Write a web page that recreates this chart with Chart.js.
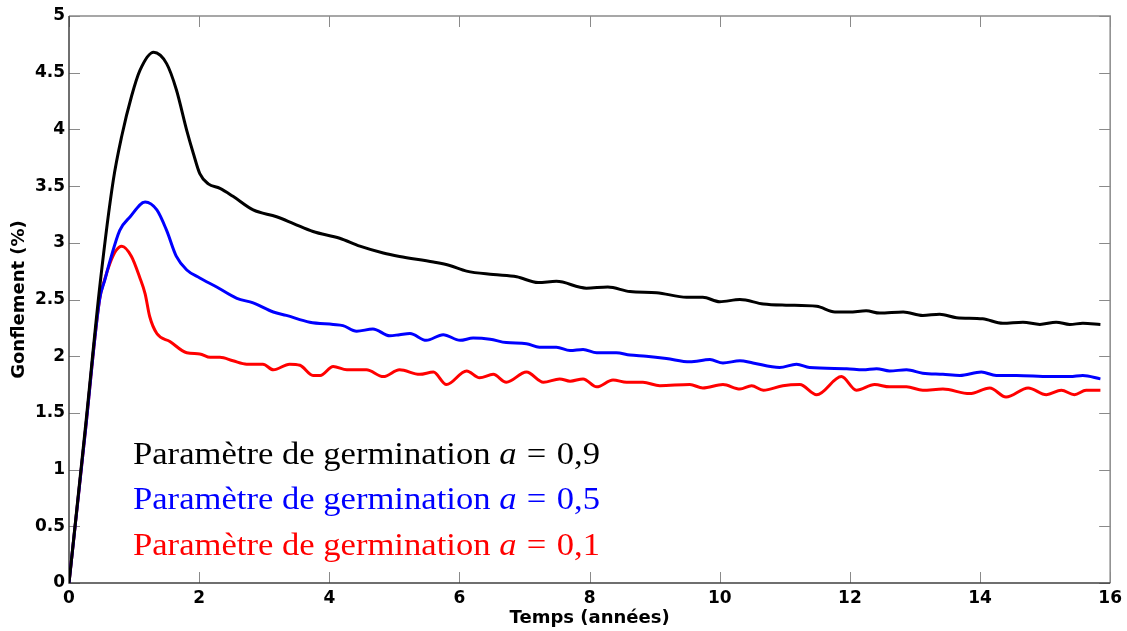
<!DOCTYPE html>
<html><head><meta charset="utf-8">
<script src="https://cdn.jsdelivr.net/npm/chart.js@4/dist/chart.umd.min.js"></script>
<style>html,body{margin:0;padding:0;background:#fff}#wrap{width:1127px;height:631px}</style>
</head><body><div id="wrap"><canvas id="c" width="1127" height="631"></canvas></div>
<script>
// ---- data ----
const xTicks = [0, 2, 4, 6, 8, 10, 12, 14, 16];
const yTicks = [0, 0.5, 1, 1.5, 2, 2.5, 3, 3.5, 4, 4.5, 5];
const xTitle = 'Temps (années)';
const yTitle = 'Gonflement (%)';
const labelPrefix = 'Paramètre de germination ';
const labelVar = 'a';
const labelValues = ['0,9', '0,5', '0,1'];
const seriesColors = ['#000000', '#0000ff', '#ff0000'];

const tBlack = [0,0.25,0.48,0.68,0.81,0.96,1.09,1.30,1.50,1.65,1.81,1.91,2.01,2.14,2.32,2.52,2.83,3.19,3.45,3.75,4.16,4.47,4.83,5.08,5.60,5.85,6.11,6.52,6.88,7.21,7.49,7.95,8.28,8.62,9.03,9.49,9.74,10.0,10.31,10.67,11.02,11.49,11.77,11.99,12.25,12.46,12.82,13.12,13.38,13.64,14.04,14.35,14.66,14.92,15.17,15.38,15.58,15.85];
const vBlack = [0,1.36,2.65,3.55,3.94,4.29,4.52,4.68,4.58,4.35,3.99,3.79,3.61,3.52,3.48,3.41,3.29,3.23,3.17,3.10,3.04,2.97,2.91,2.88,2.83,2.80,2.75,2.72,2.70,2.65,2.66,2.60,2.61,2.57,2.56,2.52,2.52,2.48,2.50,2.46,2.45,2.44,2.39,2.39,2.40,2.38,2.39,2.36,2.37,2.34,2.33,2.29,2.30,2.28,2.30,2.28,2.29,2.28];

const tBlue = [0,0.25,0.47,0.55,0.63,0.78,0.94,1.17,1.35,1.50,1.65,1.81,2.01,2.27,2.58,2.83,3.14,3.34,3.70,4.06,4.21,4.42,4.67,4.93,5.08,5.24,5.49,5.75,6.01,6.21,6.47,6.72,7.03,7.23,7.49,7.70,7.90,8.11,8.41,8.62,8.87,9.18,9.54,9.85,10.05,10.31,10.51,10.92,11.18,11.38,11.95,12.20,12.41,12.61,12.87,13.12,13.43,13.69,14.02,14.25,14.56,15.07,15.38,15.58,15.85];
const vBlue = [0,1.33,2.5,2.67,2.84,3.11,3.23,3.36,3.29,3.11,2.88,2.76,2.69,2.61,2.51,2.47,2.39,2.36,2.30,2.28,2.27,2.22,2.24,2.18,2.19,2.20,2.14,2.19,2.14,2.16,2.15,2.12,2.11,2.08,2.08,2.05,2.06,2.03,2.03,2.01,2.00,1.98,1.95,1.97,1.94,1.96,1.94,1.90,1.93,1.90,1.89,1.88,1.89,1.87,1.88,1.85,1.84,1.83,1.86,1.83,1.83,1.82,1.82,1.83,1.80];

const tRed = [0,0.25,0.47,0.55,0.63,0.72,0.81,0.96,1.09,1.17,1.24,1.35,1.55,1.81,2.01,2.17,2.32,2.52,2.73,2.98,3.14,3.39,3.55,3.75,3.86,4.06,4.27,4.57,4.83,5.08,5.39,5.60,5.80,6.11,6.31,6.52,6.72,7.03,7.29,7.54,7.70,7.90,8.11,8.36,8.57,8.82,9.08,9.54,9.74,10.05,10.31,10.49,10.67,10.97,11.23,11.49,11.87,12.10,12.38,12.61,12.87,13.12,13.43,13.84,14.15,14.40,14.74,15.02,15.25,15.45,15.63,15.85];
const vRed = [0,1.33,2.5,2.68,2.82,2.93,2.97,2.88,2.69,2.55,2.35,2.20,2.13,2.03,2.02,1.99,1.99,1.96,1.93,1.93,1.88,1.93,1.92,1.83,1.83,1.91,1.88,1.88,1.82,1.88,1.84,1.86,1.75,1.87,1.81,1.84,1.77,1.86,1.77,1.80,1.78,1.80,1.73,1.79,1.77,1.77,1.74,1.75,1.72,1.75,1.71,1.74,1.70,1.74,1.75,1.66,1.82,1.70,1.75,1.73,1.73,1.70,1.71,1.67,1.72,1.64,1.72,1.66,1.70,1.66,1.70,1.70];

const pts = (t, v) => t.map((x, i) => ({ x: x, y: v[i] }));

// ---- plugins ----
const framePlugin = {
  id: 'frame',
  beforeDatasetsDraw(chart) {
    const { ctx, chartArea: a, scales: { x, y } } = chart;
    ctx.save();
    ctx.lineWidth = 1;
    ctx.strokeStyle = '#8a8a8a';
    const tl = 11;
    xTicks.forEach(v => {
      const px = Math.round(x.getPixelForValue(v)) + 0.5;
      ctx.beginPath(); ctx.moveTo(px, a.bottom); ctx.lineTo(px, a.bottom - tl); ctx.stroke();
      ctx.beginPath(); ctx.moveTo(px, a.top); ctx.lineTo(px, a.top + tl); ctx.stroke();
    });
    yTicks.forEach(v => {
      const py = Math.round(y.getPixelForValue(v)) + 0.5;
      ctx.beginPath(); ctx.moveTo(a.left, py); ctx.lineTo(a.left + tl, py); ctx.stroke();
      ctx.beginPath(); ctx.moveTo(a.right, py); ctx.lineTo(a.right - tl, py); ctx.stroke();
    });
    ctx.lineWidth = 1.5;
    ctx.strokeStyle = '#8a8a8a';
    ctx.beginPath(); ctx.moveTo(a.left, a.top); ctx.lineTo(a.right, a.top); ctx.lineTo(a.right, a.bottom); ctx.stroke();
    ctx.strokeStyle = '#404040';
    ctx.beginPath(); ctx.moveTo(a.left, a.top); ctx.lineTo(a.left, a.bottom); ctx.lineTo(a.right, a.bottom); ctx.stroke();
    ctx.restore();
  }
};

const legendTextPlugin = {
  id: 'legendText',
  afterDraw(chart) {
    const ctx = chart.ctx;
    const size = 31;
    const normal = size + 'px "Liberation Serif", "DejaVu Serif", serif';
    const italic = 'italic ' + normal;
    const startX = 133, targetW = 467;
    const baselines = [464, 509, 555];
    labelValues.forEach((val, i) => {
      ctx.save();
      ctx.font = normal;
      const w1 = ctx.measureText(labelPrefix).width;
      ctx.font = italic;
      const w2 = ctx.measureText(labelVar).width;
      ctx.font = normal;
      const gap = size * 0.3;
      const w3 = ctx.measureText('=').width;
      const w4 = ctx.measureText(val).width;
      const W = w1 + w2 + gap + w3 + gap + w4;
      const sx = targetW / W;
      ctx.translate(startX, baselines[i]);
      ctx.scale(sx, 1);
      ctx.fillStyle = seriesColors[i];
      ctx.textBaseline = 'alphabetic';
      ctx.textAlign = 'left';
      let cx = 0;
      ctx.font = normal; ctx.fillText(labelPrefix, cx, 0); cx += w1;
      ctx.font = italic; ctx.fillText(labelVar, cx, 0); cx += w2 + gap;
      ctx.font = normal; ctx.fillText('=', cx, 0); cx += w3 + gap;
      ctx.fillText(val, cx, 0);
      ctx.restore();
    });
  }
};

const tickFont = { family: '"DejaVu Sans", "Liberation Sans", sans-serif', size: 17, weight: 'bold' };
const titleFont = { family: '"DejaVu Sans", "Liberation Sans", sans-serif', size: 18, weight: 'bold' };

new Chart(document.getElementById('c'), {
  type: 'line',
  data: {
    datasets: [
      { label: 'a = 0,9', data: pts(tBlack, vBlack), borderColor: seriesColors[0] },
      { label: 'a = 0,5', data: pts(tBlue, vBlue), borderColor: seriesColors[1] },
      { label: 'a = 0,1', data: pts(tRed, vRed), borderColor: seriesColors[2] }
    ].map(d => Object.assign(d, { borderWidth: 3, pointRadius: 0, fill: false, cubicInterpolationMode: 'monotone' }))
  },
  options: {
    responsive: false,
    animation: false,
    devicePixelRatio: 1,
    layout: { padding: { top: 16, right: 16, left: 0, bottom: 0 } },
    plugins: { legend: { display: false }, tooltip: { enabled: false } },
    scales: {
      x: {
        type: 'linear', min: 0, max: 16,
        afterBuildTicks: s => { s.ticks = xTicks.map(v => ({ value: v })); },
        afterFit: s => { s.height = 48; },
        grid: { display: false, drawTicks: false },
        border: { display: false },
        ticks: { color: '#000', font: tickFont, padding: 5, maxRotation: 0, autoSkip: false, callback: v => String(v) },
        title: { display: true, text: xTitle, color: '#000', font: titleFont, padding: { top: 0, bottom: 2 } }
      },
      y: {
        type: 'linear', min: 0, max: 5,
        afterBuildTicks: s => { s.ticks = yTicks.map(v => ({ value: v })); },
        afterFit: s => { s.width = 69; },
        grid: { display: false, drawTicks: false },
        border: { display: false },
        ticks: { color: '#000', font: tickFont, padding: 4, autoSkip: false, callback: v => String(v) },
        title: { display: true, text: yTitle, color: '#000', font: titleFont, padding: { top: 9, bottom: 0 } }
      }
    }
  },
  plugins: [framePlugin, legendTextPlugin]
});
</script></body></html>
